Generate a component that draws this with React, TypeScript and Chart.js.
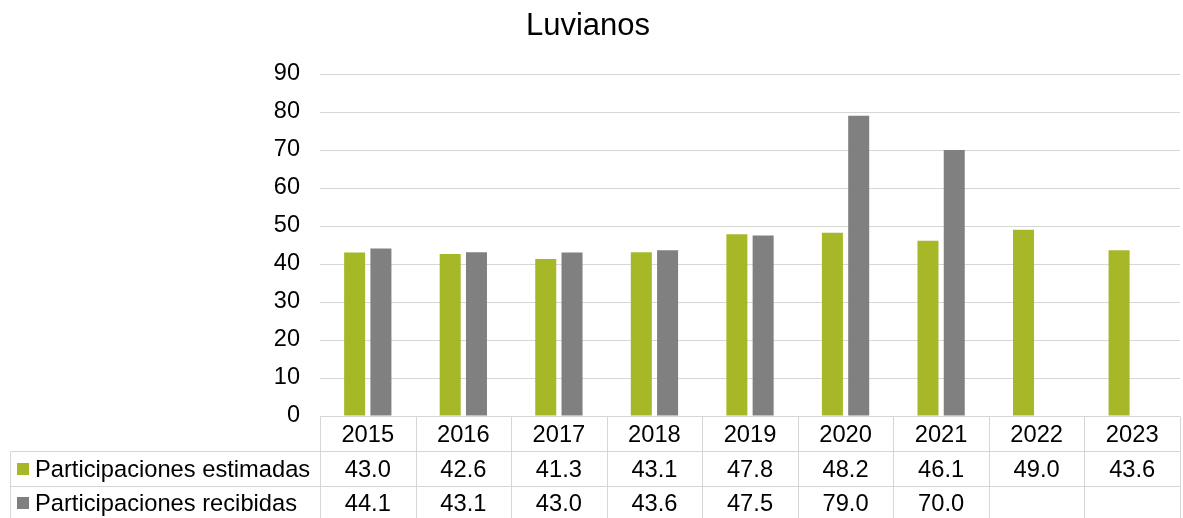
import React, { useEffect, useRef } from "react";
import { Chart, registerables } from "chart.js";

Chart.register(...registerables);

const TITLE = "Luvianos";
const categories = ["2015", "2016", "2017", "2018", "2019", "2020", "2021", "2022", "2023"];
const estimadas: (number | null)[] = [43.0, 42.6, 41.3, 43.1, 47.8, 48.2, 46.1, 49.0, 43.6];
const recibidas: (number | null)[] = [44.1, 43.1, 43.0, 43.6, 47.5, 79.0, 70.0, null, null];
const seriesNames = ["Participaciones estimadas", "Participaciones recibidas"];
const yTicks = { min: 0, max: 90, step: 10 };

const GREEN = "#A6B828";
const GRAY = "#808080";
const LINE = "#D6D6D6";
const FONT = "'Liberation Sans', Arial, sans-serif";

const W = 1183;
const H = 518;

const tablePlugin = {
  id: "dataTable",
  afterDraw(chart: any) {
    const ctx = chart.ctx as CanvasRenderingContext2D;
    const area = chart.chartArea;
    const xs = chart.scales.x;
    const n = categories.length;
    const catW = (area.right - area.left) / n;
    const y0 = Math.round(area.bottom) + 0.5;
    const y1 = 451.5;
    const y2 = 486.5;
    const yEnd = H + 5;
    const tableLeft = 10.5;

    ctx.save();
    ctx.strokeStyle = LINE;
    ctx.lineWidth = 1;
    ctx.beginPath();
    ctx.moveTo(area.left, y0);
    ctx.lineTo(area.right, y0);
    ctx.moveTo(tableLeft, y1);
    ctx.lineTo(area.right, y1);
    ctx.moveTo(tableLeft, y2);
    ctx.lineTo(area.right, y2);
    for (let i = 0; i <= n; i++) {
      const x = Math.round(area.left + i * catW) + 0.5;
      ctx.moveTo(x, y0);
      ctx.lineTo(x, yEnd);
    }
    ctx.moveTo(tableLeft, y1);
    ctx.lineTo(tableLeft, yEnd);
    ctx.stroke();

    ctx.fillStyle = "#000";
    ctx.font = `23.7px ${FONT}`;
    ctx.textAlign = "center";
    ctx.textBaseline = "middle";
    const rowMid = [(y0 + y1) / 2 + 1, (y1 + y2) / 2 + 1, (y2 + 520) / 2 + 1];
    categories.forEach((c, i) => {
      const cx = xs.getPixelForValue(i);
      ctx.fillText(c, cx, rowMid[0]);
      const a = estimadas[i];
      const b = recibidas[i];
      if (a != null) ctx.fillText(a.toFixed(1), cx, rowMid[1]);
      if (b != null) ctx.fillText(b.toFixed(1), cx, rowMid[2]);
    });

    // legend keys + series names
    const colors = [GREEN, GRAY];
    seriesNames.forEach((name, k) => {
      const my = rowMid[k + 1];
      ctx.fillStyle = colors[k];
      ctx.fillRect(17, Math.round(my - 7), 12, 12);
      ctx.fillStyle = "#000";
      ctx.textAlign = "left";
      ctx.fillText(name, 35, my);
    });

    // title
    ctx.font = `31px ${FONT}`;
    ctx.textAlign = "center";
    ctx.textBaseline = "alphabetic";
    ctx.fillStyle = "#000";
    ctx.fillText(TITLE, 588, 35);
    ctx.restore();
  },
};

export default function App() {
  const ref = useRef<HTMLCanvasElement>(null);
  useEffect(() => {
    if (!ref.current) return;
    const chart = new Chart(ref.current, {
      type: "bar",
      data: {
        labels: categories,
        datasets: [
          {
            label: seriesNames[0],
            data: estimadas,
            backgroundColor: GREEN,
            borderWidth: 0,
            categoryPercentage: 0.55,
            barPercentage: 0.8,
          },
          {
            label: seriesNames[1],
            data: recibidas,
            backgroundColor: GRAY,
            borderWidth: 0,
            categoryPercentage: 0.55,
            barPercentage: 0.8,
          },
        ],
      },
      options: {
        responsive: false,
        animation: false,
        devicePixelRatio: 1,
        layout: { padding: { left: 0, right: 3, top: 74, bottom: 102 } },
        plugins: {
          legend: { display: false },
          title: { display: false },
          tooltip: { enabled: false },
        },
        scales: {
          x: {
            display: false,
          },
          y: {
            min: yTicks.min,
            max: yTicks.max,
            afterFit: (s: any) => {
              s.width = 320;
            },
            border: { display: false },
            grid: { color: LINE, lineWidth: 1, drawTicks: false },
            ticks: {
              stepSize: yTicks.step,
              padding: 20,
              color: "#000",
              font: { family: FONT, size: 23.5 },
            },
          },
        },
      },
      plugins: [tablePlugin],
    });
    return () => chart.destroy();
  }, []);
  return (
    <div style={{ position: "fixed", left: 0, top: 0, width: W, height: H, background: "#fff" }}>
      <canvas ref={ref} width={W} height={H} style={{ width: W, height: H, display: "block" }} />
    </div>
  );
}
